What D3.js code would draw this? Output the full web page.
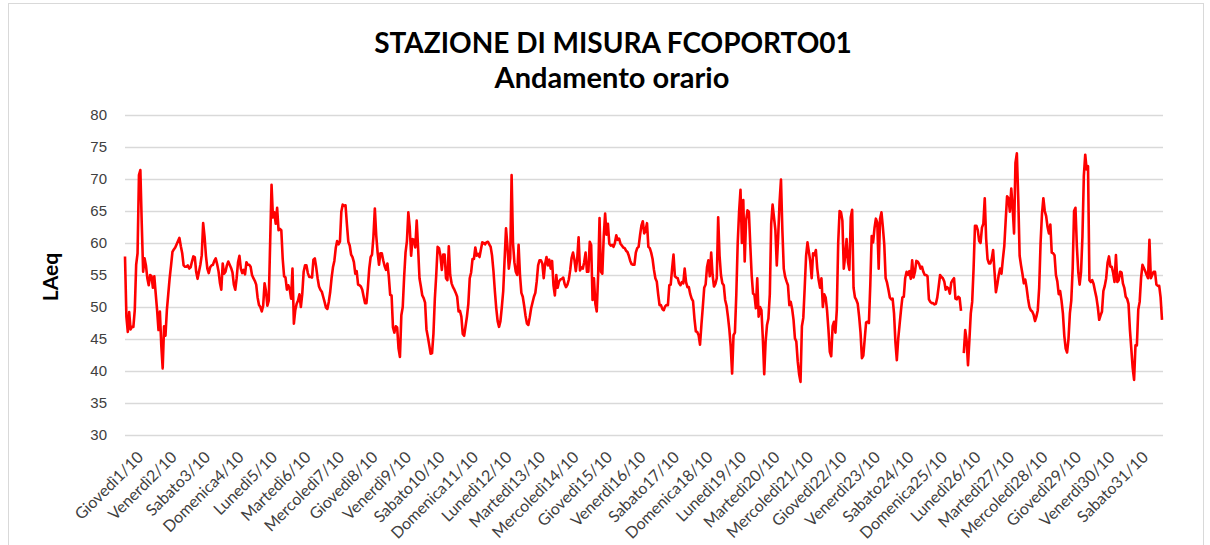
<!DOCTYPE html>
<html>
<head>
<meta charset="utf-8">
<script src="https://cdn.jsdelivr.net/npm/d3@7"></script>
<style>
  body { margin: 0; background: #fff; }
  svg { display: block; font-family: Lato, "Open Sans", sans-serif; }
</style>
</head>
<body>
<div id="chart"></div>
<script>
// Hourly LAeq, October: one row of 24 values per day, grouped by week.
const DAY_LABELS = [
  'Giovedì1/10', 'Venerdì2/10', 'Sabato3/10', 'Domenica4/10', 'Lunedì5/10', 'Martedì6/10', 'Mercoledì7/10',
  'Giovedì8/10', 'Venerdì9/10', 'Sabato10/10', 'Domenica11/10', 'Lunedì12/10', 'Martedì13/10', 'Mercoledì14/10',
  'Giovedì15/10', 'Venerdì16/10', 'Sabato17/10', 'Domenica18/10', 'Lunedì19/10', 'Martedì20/10', 'Mercoledì21/10',
  'Giovedì22/10', 'Venerdì23/10', 'Sabato24/10', 'Domenica25/10', 'Lunedì26/10', 'Martedì27/10', 'Mercoledì28/10',
  'Giovedì29/10', 'Venerdì30/10', 'Sabato31/10',
];

const week1 = [
  57.9, 48.5, 46.1, 49.2, 46.5, 46.9, 46.9, 49.5, 56.6, 58.4, 70.6, 71.4, 63, 55.5, 57.6, 56.5, 54.5, 53.4, 55, 54.8, 53, 54.8, 52.1, 49.5,
  46.4, 49.3, 44, 40.4, 47, 45.5, 49.5, 52, 54.5, 56.5, 58.6, 59, 59.3, 59.8, 60.3, 60.8, 59.5, 58.4, 56.5, 56.3, 56.3, 56.5, 56, 56.2,
  57.1, 57.9, 57.8, 55.5, 54.4, 55.5, 56.6, 58.1, 63.1, 61, 58, 56, 55.3, 56.2, 56.5, 56.6, 57.2, 57.6, 56.7, 55.6, 53.8, 52.7, 56.8, 55.2,
  55.5, 56.5, 57.1, 56.6, 56.1, 55.4, 53.5, 52.7, 54.5, 57, 58, 56, 55.3, 55.8, 55.1, 57, 56.6, 56.6, 56.3, 55, 54.5, 54.1, 53.5, 51.5,
  50.3, 50, 49.3, 50.2, 53.7, 52.5, 50.2, 51, 60, 69.1, 64, 64.8, 63, 65.5, 62, 62.2, 62, 57.5, 54.8, 54.6, 52.7, 53.4, 52.8, 51.3,
  56, 47.4, 49.5, 50.5, 51, 52, 50, 52, 55.5, 56.5, 56.5, 55.3, 54.7, 54.7, 54.6, 57.4, 57.6, 56.2, 54.5, 53.2, 52.7, 52.4, 51.6, 50.8,
  49.9, 49.7, 50.8, 52.3, 54.5, 56.2, 57.2, 59.2, 60.3, 59.8, 60.2, 64.9, 66, 65.8, 65.9, 62.9, 60.2, 59.6, 58.2, 57.8, 57, 55.2, 55.6, 53.5,
];

const week2 = [
  53.4, 53.2, 52.7, 51.6, 50.6, 50.6, 53, 56, 57.8, 58.2, 61, 65.4, 61.2, 58.5, 56.6, 58.4, 58.4, 57.3, 56.4, 55.8, 56.8, 54.8, 51.9, 51.8,
  46.8, 46, 47, 46.8, 43.5, 42.2, 48.7, 50, 54.7, 58.5, 60.3, 64.8, 62.5, 58, 60.6, 60.5, 59.3, 63.5, 59.2, 54.5, 53.2, 51.8, 51.4, 50.7,
  46.5, 45.3, 44, 42.7, 42.8, 45.8, 51.3, 55, 59.4, 59.2, 58, 55.8, 58.2, 58.2, 54.5, 54.2, 59.5, 55, 53.7, 53.1, 52.7, 52.2, 51.6, 49.3,
  49.4, 48.5, 45.8, 45.5, 47, 48.5, 50.5, 54.5, 55.4, 57.5, 57.5, 59.3, 58, 58.3, 57.8, 59, 60.1, 60, 59.8, 60.1, 60.2, 59.8, 59.4, 58,
  55.6, 52.5, 49.8, 47.8, 46.9, 47.8, 50, 52.5, 57.5, 62.3, 59.5, 56, 57.6, 70.6, 60, 57, 55.5, 55, 59.7, 55, 52.2, 51.6, 50.2, 48.6,
  47.4, 47.2, 48.4, 49.8, 50.7, 51.6, 52.2, 54, 56.5, 57.3, 57.3, 56.8, 54.5, 56.7, 57.8, 56.5, 57.4, 56, 57.2, 53.4, 51.8, 55, 53, 54,
  54.3, 54.4, 54.6, 53.6, 53.1, 53.5, 54.3, 55.8, 57.7, 58.5, 57.4, 55.6, 57.5, 60.9, 55.7, 56.2, 56, 57, 58.5, 55.5, 55.5, 60.2, 59.7, 51.1,
];

const week3 = [
  54.5, 50.5, 49.3, 55, 63.9, 55.5, 55.2, 61, 64.6, 61.3, 63, 59.9, 59.6, 59.7, 59.4, 60, 61.2, 60.5, 60.7, 59.9, 59.6, 59.3, 59.2, 58.8,
  58.6, 58, 57.2, 56.7, 56.6, 56.6, 58.5, 59.2, 59.4, 61.2, 62.7, 63.4, 61.5, 62, 63.1, 59.4, 59.2, 58.5, 57.5, 55.8, 54.5, 54, 52, 50.3,
  50.3, 49.7, 49.5, 50.1, 50.3, 50.3, 53.4, 53.5, 56, 58.2, 54.8, 54.6, 54.5, 53.7, 53.4, 53.9, 53.7, 56, 53.9, 53.1, 53.1, 52, 51.3, 50.9,
  48.2, 46.2, 46.1, 45.6, 44.1, 47.2, 50, 53, 53.5, 56.2, 57.3, 54.8, 58.5, 55, 53.2, 53.6, 54.5, 64, 58, 55, 53.7, 53.4, 51.1, 50.2,
  48.5, 46.5, 43.8, 39.6, 45.6, 46, 52, 60, 64.9, 68.3, 60, 66.7, 57.1, 63.5, 65.1, 64.9, 59.7, 55, 52.1, 51.9, 49.8, 54.5, 48.5, 50,
  49.5, 45.1, 39.5, 44.6, 47.2, 48.2, 52, 63, 66, 64, 62, 56.5, 61, 66.4, 69.9, 62, 56, 54.7, 54, 53.4, 50.3, 50.8, 49.7, 48,
  45.1, 44.6, 41.5, 39.5, 38.3, 47, 48.3, 53, 58, 60.1, 58.6, 57.1, 54.5, 58.4, 58.1, 58.9, 56, 54.2, 53, 54.5, 50, 52, 51.5, 49.5,
];

const week4 = [
  46.5, 43, 42.3, 47, 47.7, 46, 49.5, 60, 65, 64.8, 63.5, 56, 58, 60.6, 57, 55.8, 64, 65.2, 53, 51.5, 51.1, 50.5, 48.5, 46,
  42, 42.4, 45, 47.6, 47.7, 47.5, 53.5, 61.1, 60.1, 62.3, 63.8, 63.2, 56, 63.8, 64.8, 62.5, 59.8, 54.5, 53.8, 52.7, 51.5, 51.2, 51.3, 49,
  44.5, 41.7, 45, 47.3, 49.5, 51.5, 51.6, 54.5, 55.5, 55, 55.6, 54.4, 57.3, 54.6, 55.5, 57.2, 57.1, 56.7, 56, 56.3, 55.5, 55, 55, 54.8,
  51.2, 50.8, 50.6, 50.6, 50.4, 50.5, 51.5, 53.2, 55, 54.7, 54.5, 54, 52.7, 53.1, 52.9, 52.1, 53.8, 54.2, 54.5, 51.3, 51.2, 51.6, 51.4, 49.4,
  null, 42.8, 46.4, 44.8, 40.9, 44.8, 49, 50.8, 56, 62.7, 62.7, 62, 60.3, 60, 62.4, 63, 67, 60.7, 57.5, 56.8, 56.8, 57.5, 58.9, 55.5,
  52.3, 53.5, 55, 56, 55.2, 57.5, 59.5, 63.5, 67.3, 67, 64.9, 68.5, 65.5, 61.5, 72.5, 74, 67, 58, 56.5, 55.2, 53.7, 54.3, 53, 51.3,
  50, 49.5, 49.3, 48.8, 47.8, 48.5, 49.5, 53, 60, 64.5, 67, 65, 64.2, 62.5, 61.5, 62.9, 58.5, 58.4, 58.1, 55, 54, 52, 52.5, 51,
];

const week5 = [
  49, 45.5, 43.5, 42.9, 45, 49, 51, 56, 65, 65.5, 59.5, 55.5, 53.5, 55.5, 61, 70.5, 73.8, 71.5, 72, 54.2, 53.9, 54.2, 53.6, 52.5,
  51.5, 50, 48, 48.7, 49.3, 52.5, 53.3, 54.5, 56.9, 57.9, 56.3, 56.3, 55.3, 53.9, 58.1, 53.9, 54.2, 55.5, 55.4, 53.7, 53, 51.6, 51.3, 50.5,
  46.5, 43.5, 40.5, 38.6, 44, 44, 49.6, 50.8, 54.5, 56.6, 56.1, 55.6, 55, 54.5, 60.5, 54.5, 55, 55.5, 55.5, 53.5, 53.3, 53.3, 51.5, 48,
];

const Y_TICKS = [30, 35, 40, 45, 50, 55, 60, 65, 70, 75, 80];

const HOURS_PER_DAY = 24;
const levels = [].concat(week1, week2, week3, week4, week5);

const W = 1210;
const H = 545;
const plot = { left: 125, right: 1162, top: 115, bottom: 435 };

const svg = d3.select('#chart').append('svg').attr('width', W).attr('height', H);

// outer chart frame (light grey, as in the spreadsheet export)
svg.append('rect')
  .attr('x', 8.5).attr('y', 3.5)
  .attr('width', 1195).attr('height', 560)
  .attr('fill', 'none').attr('stroke', '#d9d9d9');

const x = d3.scaleLinear().domain([0, levels.length - 1]).range([plot.left, plot.right]);
const y = d3.scaleLinear().domain([30, 80]).range([plot.bottom, plot.top]);

// y axis doubles as horizontal gridlines
const yAxis = svg.append('g')
  .attr('transform', `translate(${plot.left},0)`)
  .call(d3.axisLeft(y).tickValues(Y_TICKS).tickSize(-(plot.right - plot.left + 1)).tickPadding(18));
yAxis.select('.domain').remove();
yAxis.selectAll('line').attr('stroke', '#d9d9d9').attr('stroke-width', 1.3);
yAxis.selectAll('text').attr('fill', '#404040').style('font-size', '15px');

// day labels: one per day, rotated, ending just before the day's midpoint
svg.append('g')
  .selectAll('text')
  .data(DAY_LABELS)
  .join('text')
  .attr('transform', (d, i) => `translate(${x(i * HOURS_PER_DAY + 8)},450) rotate(-45)`)
  .attr('text-anchor', 'end')
  .attr('dy', '0.72em')
  .attr('fill', '#404040')
  .style('font-size', '16px')
  .text((d) => d);

const line = d3.line()
  .defined((d) => d != null)
  .x((d, i) => x(i))
  .y((d) => y(d));

svg.append('path')
  .datum(levels)
  .attr('fill', 'none')
  .attr('stroke', '#ff0000')
  .attr('stroke-width', 2.6)
  .attr('stroke-linejoin', 'round')
  .attr('d', line);

svg.append('text')
  .attr('transform', 'translate(58,277) rotate(-90)')
  .attr('text-anchor', 'middle')
  .attr('font-weight', 'bold')
  .attr('fill', '#000')
  .style('font-size', '21px')
  .text('LAeq');

svg.append('text')
  .attr('x', 613).attr('y', 53)
  .attr('text-anchor', 'middle')
  .attr('font-weight', 'bold')
  .style('font-size', '28px')
  .text('STAZIONE DI MISURA FCOPORTO01');

svg.append('text')
  .attr('x', 612).attr('y', 88)
  .attr('text-anchor', 'middle')
  .attr('font-weight', 'bold')
  .style('font-size', '29px')
  .text('Andamento orario');
</script>
</body>
</html>
